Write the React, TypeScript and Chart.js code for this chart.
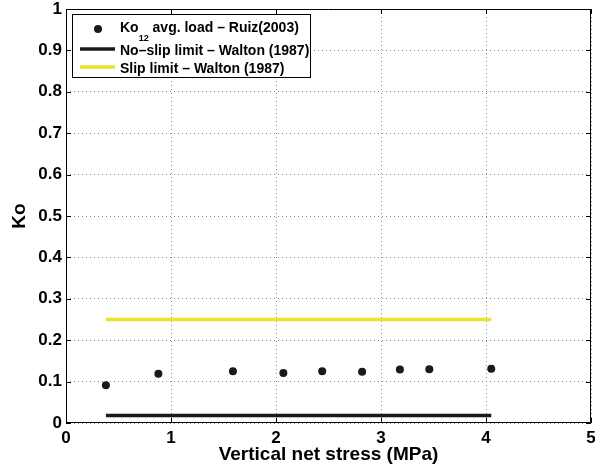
import { useEffect, useRef } from "react";
import { Chart, registerables } from "chart.js";

Chart.register(...registerables);

// ---- data ----
const stressMPa = [0.38, 0.88, 1.59, 2.07, 2.44, 2.82, 3.18, 3.46, 4.05];
const ko12AvgLoad = [0.091, 0.119, 0.125, 0.121, 0.125, 0.124, 0.129, 0.13, 0.131];
const limitStressRange = [0.38, 4.05];
const noSlipKo = [0.018, 0.018];
const slipKo = [0.25, 0.25];
const xTickValues = [0, 1, 2, 3, 4, 5];
const yTickValues = [0, 0.1, 0.2, 0.3, 0.4, 0.5, 0.6, 0.7, 0.8, 0.9, 1];
const seriesLabels = [
  "Ko_{12} avg. load – Ruiz(2003)",
  "No–slip limit – Walton (1987)",
  "Slip limit – Walton (1987)",
];
const xTitle = "Vertical net stress (MPa)";
const yTitle = "Ko";

const FONT = "'Liberation Sans', Arial, Helvetica, sans-serif";
const YELLOW = "#ebe32b";
const BLACK = "#1a1a1a";

const framePlugin = {
  id: "frame",
  afterDatasetsDraw(chart: any) {
    const { ctx, chartArea, scales } = chart;
    const { left, right, top, bottom } = chartArea;
    ctx.save();
    ctx.strokeStyle = "#000";
    ctx.lineWidth = 1;
    ctx.beginPath();
    ctx.rect(Math.round(left) + 0.5, Math.round(top) + 0.5, Math.round(right) - Math.round(left) - 1, Math.round(bottom) - Math.round(top) - 1);
    ctx.stroke();
    const tl = 5;
    ctx.beginPath();
    xTickValues.forEach((v) => {
      const px = Math.round(scales.x.getPixelForValue(v)) + 0.5;
      ctx.moveTo(px, bottom);
      ctx.lineTo(px, bottom - tl);
      ctx.moveTo(px, top);
      ctx.lineTo(px, top + tl);
    });
    yTickValues.forEach((v) => {
      const py = Math.round(scales.y.getPixelForValue(v)) + 0.5;
      ctx.moveTo(left, py);
      ctx.lineTo(left + tl, py);
      ctx.moveTo(right, py);
      ctx.lineTo(right - tl, py);
    });
    ctx.stroke();
    ctx.restore();
  },
};

function drawLabel(ctx: CanvasRenderingContext2D, text: string, x: number, y: number) {
  const m = text.match(/^(.*?)_\{(.*?)\}(.*)$/);
  ctx.textBaseline = "alphabetic";
  ctx.textAlign = "left";
  ctx.font = `bold 14px ${FONT}`;
  if (!m) {
    ctx.fillText(text, x, y);
    return;
  }
  ctx.fillText(m[1], x, y);
  let cx = x + ctx.measureText(m[1]).width;
  ctx.font = `bold 9px ${FONT}`;
  ctx.fillText(m[2], cx, y + 9);
  cx += ctx.measureText(m[2]).width;
  ctx.font = `bold 14px ${FONT}`;
  ctx.fillText(m[3], cx, y);
}

const legendPlugin = {
  id: "matLegend",
  afterDraw(chart: any) {
    const { ctx } = chart;
    const ds = chart.data.datasets;
    ctx.save();
    const bx = 72.5, by = 14.5, bw = 238, bh = 63;
    ctx.fillStyle = "#fff";
    ctx.fillRect(bx, by, bw, bh);
    ctx.strokeStyle = "#000";
    ctx.lineWidth = 1;
    ctx.strokeRect(bx, by, bw, bh);
    const rows = [
      { baseline: 31.7, markY: 29 },
      { baseline: 55, markY: 49 },
      { baseline: 73.3, markY: 67 },
    ];
    ds.forEach((d: any, i: number) => {
      const r = rows[i];
      if (d.showLine === false) {
        ctx.fillStyle = d.backgroundColor;
        ctx.beginPath();
        ctx.arc(98, r.markY, 4, 0, Math.PI * 2);
        ctx.fill();
      } else {
        ctx.strokeStyle = d.borderColor;
        ctx.lineWidth = d.borderWidth;
        ctx.beginPath();
        ctx.moveTo(80, r.markY);
        ctx.lineTo(115, r.markY);
        ctx.stroke();
      }
      ctx.fillStyle = "#000";
      drawLabel(ctx, d.label, 120, r.baseline);
    });
    ctx.restore();
  },
};

export default function App() {
  const ref = useRef<HTMLCanvasElement | null>(null);
  useEffect(() => {
    if (!ref.current) return;
    const chart = new Chart(ref.current, {
      type: "scatter",
      data: {
        datasets: [
          {
            label: seriesLabels[0],
            data: stressMPa.map((x, i) => ({ x, y: ko12AvgLoad[i] })),
            showLine: false,
            backgroundColor: BLACK,
            borderColor: BLACK,
            borderWidth: 0,
            pointRadius: 4,
          },
          {
            label: seriesLabels[1],
            data: limitStressRange.map((x, i) => ({ x, y: noSlipKo[i] })),
            showLine: true,
            borderColor: BLACK,
            backgroundColor: BLACK,
            borderWidth: 3.5,
            pointRadius: 0,
          },
          {
            label: seriesLabels[2],
            data: limitStressRange.map((x, i) => ({ x, y: slipKo[i] })),
            showLine: true,
            borderColor: YELLOW,
            backgroundColor: YELLOW,
            borderWidth: 3.5,
            pointRadius: 0,
          },
        ],
      },
      options: {
        animation: false,
        responsive: true,
        maintainAspectRatio: false,
        layout: { padding: { top: 9, right: 4, left: 0, bottom: 0 } },
        plugins: {
          legend: { display: false },
          tooltip: { enabled: false },
        },
        scales: {
          x: {
            type: "linear",
            min: 0,
            max: 5,
            afterBuildTicks: (s: any) => {
              s.ticks = xTickValues.map((v) => ({ value: v }));
            },
            afterFit: (s: any) => {
              s.height = 48;
              s.paddingLeft = 0;
              s.paddingRight = 0;
            },
            ticks: {
              color: "#000",
              font: { family: FONT, size: 17, weight: "bold" },
              padding: 5,
              maxRotation: 0,
              callback: (v: any) => String(v),
            },
            grid: {
              color: "#8c8c8c",
              lineWidth: 1,
              drawTicks: false,
            },
            border: { display: false, dash: [1, 3] },
            title: {
              display: true,
              text: xTitle,
              color: "#000",
              font: { family: FONT, size: 19, weight: "bold" },
              padding: { top: 0, bottom: 5 },
            },
          },
          y: {
            type: "linear",
            min: 0,
            max: 1,
            afterBuildTicks: (s: any) => {
              s.ticks = yTickValues.map((v) => ({ value: v }));
            },
            afterFit: (s: any) => {
              s.width = 66;
              s.paddingTop = 0;
              s.paddingBottom = 0;
            },
            ticks: {
              color: "#000",
              font: { family: FONT, size: 17, weight: "bold" },
              padding: 4,
              callback: (v: any) => String(Math.round(v * 10) / 10),
            },
            grid: {
              color: "#8c8c8c",
              lineWidth: 1,
              drawTicks: false,
            },
            border: { display: false, dash: [1, 3] },
            title: {
              display: true,
              text: yTitle,
              color: "#000",
              font: { family: FONT, size: 19, weight: "bold" },
              padding: { top: 8, bottom: 0 },
            },
          },
        },
      } as any,
      plugins: [framePlugin, legendPlugin],
    });
    return () => chart.destroy();
  }, []);
  return (
    <div style={{ position: "fixed", left: 0, top: 0, width: 595, height: 471, background: "#fff" }}>
      <canvas ref={ref} />
    </div>
  );
}
